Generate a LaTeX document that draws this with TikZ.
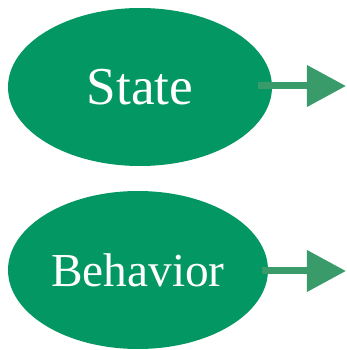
\documentclass[tikz,border=0pt]{standalone}
\usepackage{fontspec}
\setmainfont{Liberation Serif}
\usetikzlibrary{shapes.geometric,arrows.meta}
\definecolor{ellgreen}{RGB}{3,152,99}
\definecolor{arrgreen}{RGB}{58,155,106}
\tikzset{
  oval/.style={ellipse, fill=ellgreen, draw=none, inner sep=0pt, text=white},
  arr/.style={draw=arrgreen, line width=7bp, -{Triangle[length=39bp,width=40bp]}}
}
\begin{document}
\begin{tikzpicture}[x=1bp,y=1bp]
\useasboundingbox (0,0) rectangle (347,350);
\node[oval, minimum width=264bp, minimum height=158bp, font=\fontsize{53.5}{60}\selectfont] (s) at (140,263) {State};
\node[oval, minimum width=260bp, minimum height=158bp, font=\fontsize{47.5}{54}\selectfont] (b) at (138,80) {Behavior};
\coordinate (s1) at (258,264);
\coordinate (s2) at (346,264);
\coordinate (b1) at (262,79);
\coordinate (b2) at (346,79);
\draw[arr] (s1) -- (s2);
\draw[arr] (b1) -- (b2);
\end{tikzpicture}
\end{document}
